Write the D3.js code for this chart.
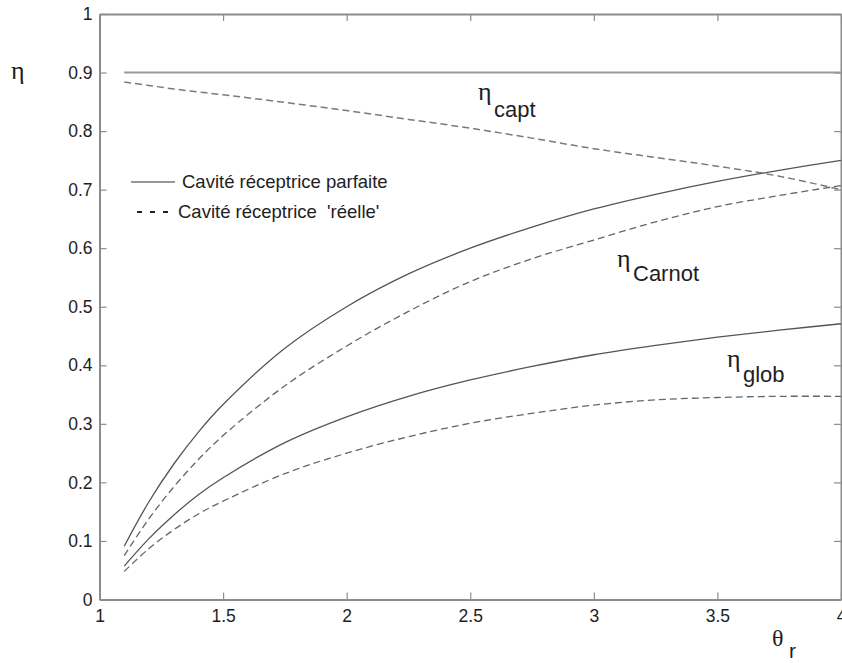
<!DOCTYPE html>
<html>
<head>
<meta charset="utf-8">
<script src="https://cdn.jsdelivr.net/npm/d3@7"></script>
<style>
  html, body { margin: 0; padding: 0; background: #fff; }
  svg { display: block; }
</style>
</head>
<body>
<svg id="chart" width="842" height="663"></svg>
<script>
// ---------------- data ----------------
const theta = [1.1, 1.2, 1.3, 1.4, 1.5, 1.75, 2, 2.25, 2.5, 2.75, 3, 3.25, 3.5, 3.75, 4];
const captPerfect   = [0.9, 0.9, 0.9, 0.9, 0.9, 0.9, 0.9, 0.9, 0.9, 0.9, 0.9, 0.9, 0.9, 0.9, 0.9];
const captReal      = [0.884, 0.878, 0.872, 0.867, 0.862, 0.849, 0.835, 0.820, 0.805, 0.788, 0.770, 0.755, 0.740, 0.723, 0.700];
const carnotPerfect = [0.091, 0.167, 0.231, 0.286, 0.333, 0.429, 0.500, 0.556, 0.600, 0.636, 0.667, 0.692, 0.714, 0.733, 0.750];
const carnotReal    = [0.075, 0.138, 0.192, 0.239, 0.280, 0.365, 0.433, 0.492, 0.543, 0.582, 0.614, 0.645, 0.671, 0.690, 0.707];
const globPerfect   = [0.057, 0.104, 0.144, 0.179, 0.208, 0.268, 0.312, 0.347, 0.375, 0.398, 0.418, 0.434, 0.448, 0.460, 0.471];
const globReal      = [0.048, 0.087, 0.119, 0.146, 0.168, 0.215, 0.250, 0.278, 0.301, 0.318, 0.332, 0.341, 0.345, 0.347, 0.347];

const xTicks = [1, 1.5, 2, 2.5, 3, 3.5, 4];
const xTickLabels = ["1", "1.5", "2", "2.5", "3", "3.5", "4"];
const yTicks = [0, 0.1, 0.2, 0.3, 0.4, 0.5, 0.6, 0.7, 0.8, 0.9, 1];
const yTickLabels = ["0", "0.1", "0.2", "0.3", "0.4", "0.5", "0.6", "0.7", "0.8", "0.9", "1"];
const legendLabels = ["Cavité réceptrice parfaite", "Cavité réceptrice  'réelle'"];

// ---------------- layout ----------------
const svg = d3.select("#chart");
const L = 99.5, R = 841, T = 14, B = 599.5;
const x = d3.scaleLinear().domain([1, 4]).range([L, R]);
const y = d3.scaleLinear().domain([0, 1]).range([B, T]);

const axisColor = "#8c8c8c";
const textColor = "#1e1e1e";
const sans = "'Liberation Sans', Arial, sans-serif";
const serif = "'Liberation Serif', 'Times New Roman', serif";

// ---------------- axes (box with inward ticks) ----------------
const tickLen = 7;
const bottomAxis = d3.axisBottom(x).tickValues(xTicks).tickSizeInner(-tickLen).tickSizeOuter(0)
  .tickPadding(10).tickFormat((d, i) => xTickLabels[i]);
const topAxis = d3.axisTop(x).tickValues(xTicks).tickSizeInner(-tickLen).tickSizeOuter(0).tickFormat("");
const leftAxis = d3.axisLeft(y).tickValues(yTicks).tickSizeInner(-tickLen).tickSizeOuter(0)
  .tickPadding(7).tickFormat((d, i) => yTickLabels[i]);
const rightAxis = d3.axisRight(y).tickValues(yTicks).tickSizeInner(-tickLen).tickSizeOuter(0).tickFormat("");

function styleAxis(g) {
  g.select(".domain").attr("stroke", axisColor).attr("stroke-width", 2);
  g.selectAll(".tick line").attr("stroke", axisColor).attr("stroke-width", 1.2);
  g.selectAll(".tick text").attr("fill", textColor).style("font-family", sans).style("font-size", "17.5px");
}
svg.append("g").attr("transform", `translate(0,${B})`).call(bottomAxis).call(styleAxis);
svg.append("g").attr("transform", `translate(0,${T})`).call(topAxis).call(styleAxis);
svg.append("g").attr("transform", `translate(${L},0)`).call(leftAxis).call(styleAxis);
svg.append("g").attr("transform", `translate(${R},0)`).call(rightAxis).call(styleAxis);

// ---------------- curves ----------------
const line = d3.line().x(d => x(d[0])).y(d => y(d[1])).curve(d3.curveCatmullRom.alpha(0.5));
const series = [
  { v: captPerfect,   dash: null,  color: "#9a9a9a", w: 2 },
  { v: captReal,      dash: "7,4", color: "#7a7a7a", w: 1.5 },
  { v: carnotPerfect, dash: null,  color: "#555",    w: 1.3 },
  { v: carnotReal,    dash: "7,4", color: "#666",    w: 1.3 },
  { v: globPerfect,   dash: null,  color: "#555",    w: 1.3 },
  { v: globReal,      dash: "7,4", color: "#666",    w: 1.3 }
];
series.forEach(s => {
  svg.append("path")
    .datum(theta.map((t, i) => [t, s.v[i]]))
    .attr("d", line)
    .attr("fill", "none")
    .attr("stroke", s.color)
    .attr("stroke-width", s.w)
    .attr("stroke-dasharray", s.dash);
});

// ---------------- legend ----------------
svg.append("line").attr("x1", 131).attr("x2", 175).attr("y1", 182).attr("y2", 182)
  .attr("stroke", "#333").attr("stroke-width", 1.2);
svg.append("text").attr("x", 182).attr("y", 188).text(legendLabels[0])
  .attr("fill", textColor).style("font-family", sans).style("font-size", "18.5px")
  .style("white-space", "pre");
svg.append("line").attr("x1", 137).attr("x2", 168).attr("y1", 212).attr("y2", 212)
  .attr("stroke", "#222").attr("stroke-width", 2).attr("stroke-dasharray", "5,8");
svg.append("text").attr("x", 178).attr("y", 218).text(legendLabels[1])
  .attr("fill", textColor).style("font-family", sans).style("font-size", "18.5px")
  .style("white-space", "pre");

// ---------------- labels ----------------
function etaLabel(xp, yEta, ySub, sub) {
  svg.append("text").attr("x", xp).attr("y", yEta).text("η")
    .attr("fill", textColor).style("font-family", serif).style("font-size", "26px");
  svg.append("text").attr("x", xp + 16).attr("y", ySub).text(sub)
    .attr("fill", textColor).style("font-family", sans).style("font-size", "22px");
}
etaLabel(478, 100, 117, "capt");
etaLabel(617, 267, 281, "Carnot");
etaLabel(727, 367, 382, "glob");

// y-axis label
svg.append("text").attr("x", 11).attr("y", 79).text("η")
  .attr("fill", textColor).style("font-family", serif).style("font-size", "26px");
// x-axis label
svg.append("text").attr("x", 772).attr("y", 646).text("θ")
  .attr("fill", textColor).style("font-family", serif).style("font-size", "24px");
svg.append("text").attr("x", 789).attr("y", 658).text("r")
  .attr("fill", textColor).style("font-family", sans).style("font-size", "21px");
</script>
</body>
</html>
